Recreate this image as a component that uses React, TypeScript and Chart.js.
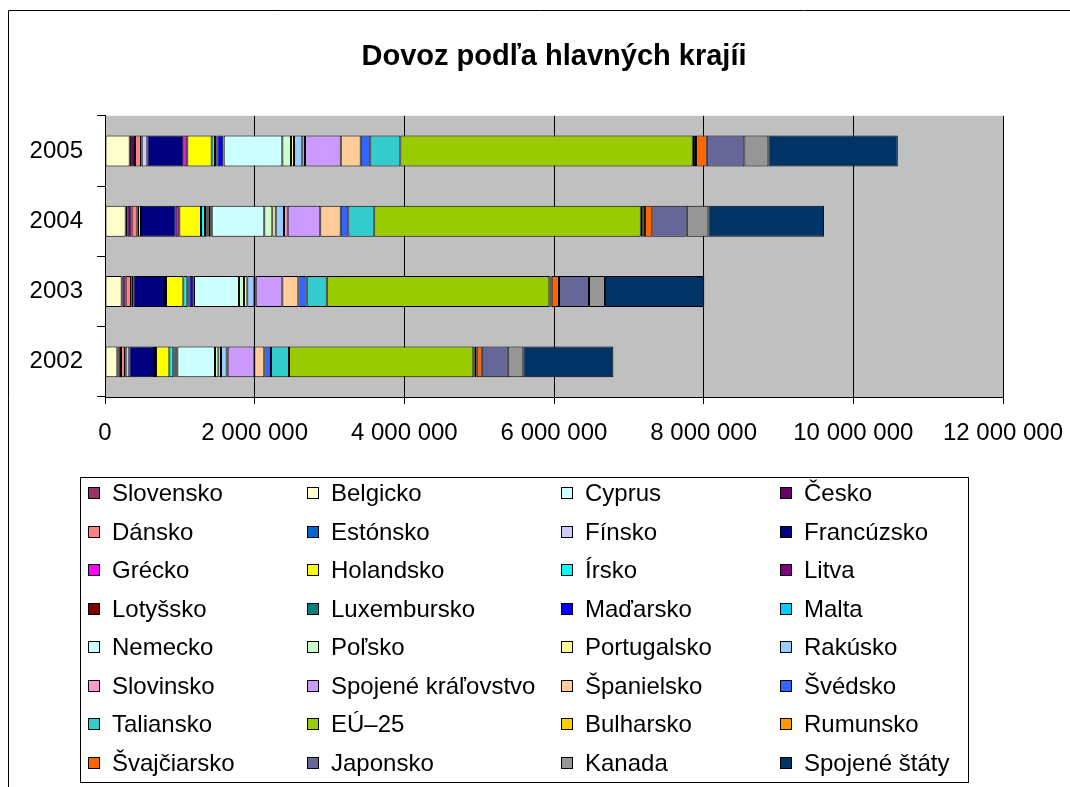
import React, { useEffect, useRef } from 'react';
import { Chart, registerables } from 'chart.js';

Chart.register(...registerables);

const chartTitle = 'Dovoz podľa hlavných krajíi';
const years = ['2002', '2003', '2004', '2005'];
const xTicks = { min: 0, max: 12000000, step: 2000000 };

const countries = [
  'Slovensko', 'Belgicko', 'Cyprus', 'Česko',
  'Dánsko', 'Estónsko', 'Fínsko', 'Francúzsko',
  'Grécko', 'Holandsko', 'Írsko', 'Litva',
  'Lotyšsko', 'Luxembursko', 'Maďarsko', 'Malta',
  'Nemecko', 'Poľsko', 'Portugalsko', 'Rakúsko',
  'Slovinsko', 'Spojené kráľovstvo', 'Španielsko', 'Švédsko',
  'Taliansko', 'EÚ–25', 'Bulharsko', 'Rumunsko',
  'Švajčiarsko', 'Japonsko', 'Kanada', 'Spojené štáty',
];

const colors = [
  '#993366', '#FFFFCC', '#CCFFFF', '#660066',
  '#FF8080', '#0066CC', '#CCCCFF', '#000080',
  '#FF00FF', '#FFFF00', '#00FFFF', '#800080',
  '#800000', '#008080', '#0000FF', '#00CCFF',
  '#CCFFFF', '#CCFFCC', '#FFFF99', '#99CCFF',
  '#FF99CC', '#CC99FF', '#FFCC99', '#3366FF',
  '#33CCCC', '#99CC00', '#FFCC00', '#FF9900',
  '#FF6600', '#666699', '#969696', '#003366',
];

// values per year: 2002, 2003, 2004, 2005
const slovensko = [0, 0, 0, 0];
const belgicko = [165000, 223000, 276000, 330000];
const cyprus = [13000, 8000, 22000, 5000];
const cesko = [36000, 45000, 58000, 66000];
const dansko = [53000, 71000, 76000, 80000];
const estonsko = [9000, 9000, 9000, 9000];
const finsko = [49000, 23000, 40000, 76000];
const francuzsko = [330000, 409000, 464000, 481000];
const grecko = [27000, 27000, 48000, 53000];
const holandsko = [178000, 232000, 290000, 325000];
const irsko = [53000, 53000, 53000, 45000];
const litva = [9000, 9000, 18000, 13000];
const lotyssko = [9000, 9000, 13000, 9000];
const luxembursko = [9000, 9000, 14000, 9000];
const madarsko = [18000, 53000, 26000, 80000];
const malta = [9000, 9000, 19000, 5000];
const nemecko = [503000, 602000, 703000, 784000];
const polsko = [45000, 67000, 107000, 116000];
const portugalsko = [35000, 44000, 45000, 40000];
const rakusko = [76000, 94000, 111000, 111000];
const slovinsko = [13000, 18000, 49000, 36000];
const spojeneKralovstvo = [357000, 356000, 436000, 477000];
const spanielsko = [133000, 214000, 273000, 267000];
const svedsko = [89000, 111000, 102000, 129000];
const taliansko = [241000, 268000, 347000, 401000];
const eu25 = [2463000, 2975000, 3560000, 3907000];
const bulharsko = [19000, 13000, 27000, 18000];
const rumunsko = [26000, 18000, 31000, 26000];
const svajciarsko = [67000, 98000, 97000, 143000];
const japonsko = [348000, 401000, 460000, 503000];
const kanada = [208000, 214000, 289000, 321000];
const spojeneStaty = [1203000, 1327000, 1546000, 1729000];

const seriesValues = [
  slovensko, belgicko, cyprus, cesko,
  dansko, estonsko, finsko, francuzsko,
  grecko, holandsko, irsko, litva,
  lotyssko, luxembursko, madarsko, malta,
  nemecko, polsko, portugalsko, rakusko,
  slovinsko, spojeneKralovstvo, spanielsko, svedsko,
  taliansko, eu25, bulharsko, rumunsko,
  svajciarsko, japonsko, kanada, spojeneStaty,
];

const FONT = '"Liberation Sans", Arial, Helvetica, sans-serif';

function formatNumber(v: number): string {
  return String(Math.round(v)).replace(/\B(?=(\d{3})+(?!\d))/g, ' ');
}

const backgroundPlugin = {
  id: 'bgPlugin',
  beforeDraw(chart: any) {
    const { ctx, chartArea } = chart;
    ctx.save();
    ctx.fillStyle = '#FFFFFF';
    ctx.fillRect(0, 0, chart.width, chart.height);
    ctx.fillStyle = '#C0C0C0';
    ctx.fillRect(chartArea.left, chartArea.top, chartArea.right - chartArea.left, chartArea.bottom - chartArea.top);
    ctx.restore();
  },
};

const framePlugin = {
  id: 'framePlugin',
  afterDraw(chart: any) {
    const { ctx } = chart;
    ctx.save();
    ctx.strokeStyle = '#000000';
    ctx.lineWidth = 1;
    ctx.beginPath();
    ctx.moveTo(8.5, chart.height);
    ctx.lineTo(8.5, 10.5);
    ctx.lineTo(chart.width, 10.5);
    ctx.stroke();
    ctx.restore();
  },
};

const gridLegendPlugin = {
  id: 'gridLegend',
  afterDraw(chart: any) {
    const { ctx } = chart;
    const boxLeft = 80, boxTop = 477, boxRight = 968, boxBottom = 782;
    const colX = [88, 307, 561, 780];
    const rowY0 = 493, rowStep = 38.5;
    ctx.save();
    ctx.strokeStyle = '#000000';
    ctx.lineWidth = 1;
    ctx.strokeRect(boxLeft + 0.5, boxTop + 0.5, boxRight - boxLeft, boxBottom - boxTop);
    ctx.font = `24px ${FONT}`;
    ctx.textBaseline = 'middle';
    ctx.textAlign = 'left';
    chart.data.datasets.forEach((ds: any, i: number) => {
      const col = i % 4;
      const row = Math.floor(i / 4);
      const x = colX[col];
      const y = Math.round(rowY0 + row * rowStep);
      ctx.fillStyle = ds.backgroundColor;
      ctx.fillRect(x, y - 6, 12, 12);
      ctx.strokeStyle = '#000000';
      ctx.strokeRect(x + 0.5, y - 5.5, 11, 11);
      ctx.fillStyle = '#000000';
      ctx.fillText(ds.label, x + 24, y + 1);
    });
    ctx.restore();
  },
};

export default function App() {
  const canvasRef = useRef<HTMLCanvasElement | null>(null);

  useEffect(() => {
    document.body.style.margin = '0';
    const canvas = canvasRef.current;
    if (!canvas) return;
    Chart.defaults.font.family = FONT;
    Chart.defaults.color = '#000000';

    const datasets = countries.map((name, i) => ({
      label: name,
      data: seriesValues[i],
      backgroundColor: colors[i],
      borderColor: '#000000',
      borderWidth: 1,
      borderSkipped: false,
      barPercentage: 1,
      categoryPercentage: 0.44,
    }));

    const chart = new Chart(canvas, {
      type: 'bar',
      data: { labels: years, datasets },
      options: {
        indexAxis: 'y',
        responsive: false,
        animation: false,
        maintainAspectRatio: false,
        layout: { padding: { top: 0, left: 0, right: 67, bottom: 330 } },
        plugins: {
          legend: { display: false },
          tooltip: { enabled: false },
          title: {
            display: true,
            text: chartTitle,
            fullSize: false,
            color: '#000000',
            font: { size: 29, weight: 'bold', family: FONT },
            padding: { top: 40, bottom: 41 },
          },
        },
        scales: {
          x: {
            stacked: true,
            min: xTicks.min,
            max: xTicks.max,
            ticks: {
              stepSize: xTicks.step,
              color: '#000000',
              font: { size: 24, family: FONT },
              padding: 15,
              maxRotation: 0,
              callback: (v: any) => formatNumber(Number(v)),
            },
            grid: {
              color: '#000000',
              lineWidth: 1,
              drawOnChartArea: true,
              drawTicks: true,
              tickLength: 7,
              tickColor: '#000000',
            },
            border: { display: true, color: '#000000', width: 1 },
            afterFit: (scale: any) => {
              scale.height = 60;
              scale.paddingLeft = 0;
              scale.paddingRight = 0;
            },
          },
          y: {
            stacked: true,
            reverse: true,
            ticks: {
              color: '#000000',
              font: { size: 24, family: FONT },
              padding: 14,
            },
            grid: {
              drawOnChartArea: false,
              drawTicks: true,
              tickLength: 8,
              color: '#000000',
              tickColor: '#000000',
              offset: true,
            },
            border: { display: true, color: '#000000', width: 1 },
            afterFit: (scale: any) => {
              scale.width = 105;
              scale.paddingTop = 0;
              scale.paddingBottom = 0;
            },
          },
        },
      },
      plugins: [backgroundPlugin, framePlugin, gridLegendPlugin],
    } as any);

    return () => {
      chart.destroy();
    };
  }, []);

  return (
    <div style={{ width: 1070, height: 787 }}>
      <canvas ref={canvasRef} width={1070} height={787} style={{ display: 'block', width: 1070, height: 787 }} />
    </div>
  );
}
